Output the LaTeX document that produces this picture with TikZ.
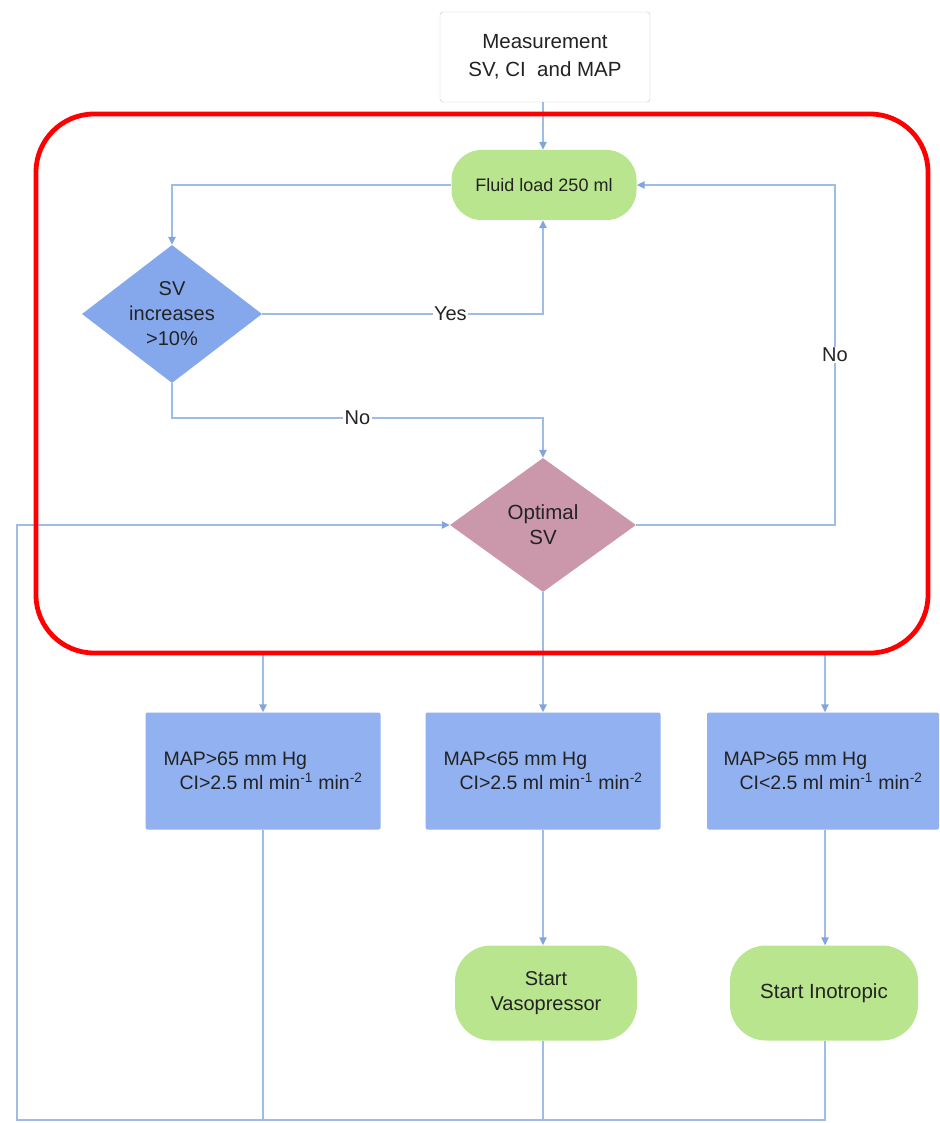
\documentclass[tikz,border=0pt]{standalone}
\usepackage{fontspec}
\setmainfont{Liberation Sans}
\usetikzlibrary{shapes.geometric,arrows.meta,calc}
\definecolor{lineblue}{RGB}{158,188,228}
\definecolor{tipblue}{RGB}{130,165,220}
\definecolor{greenfill}{RGB}{184,229,142}
\definecolor{diablue}{RGB}{133,168,236}
\definecolor{boxblue}{RGB}{145,177,240}
\definecolor{mauve}{RGB}{202,151,171}
\definecolor{txt}{RGB}{35,35,35}
\tikzset{
  conn/.style={draw=lineblue, line width=1.4pt, -{Triangle[length=8pt,width=7.5pt,color=tipblue]}},
  plain/.style={draw=lineblue, line width=1.4pt},
  lab/.style={fill=white, inner sep=1.5pt, text=txt, font=\fontsize{20}{22}\selectfont},
  startbox/.style={draw=gray!45, fill=white, rounded corners=3pt, minimum width=210pt, minimum height=90pt, align=center, text=txt, font=\fontsize{20.5}{28}\selectfont},
  pill/.style={fill=greenfill, rounded corners=30pt, align=center, text=txt, inner sep=0pt},
  svdia/.style={diamond, fill=diablue, aspect=1.3, inner sep=0pt, minimum width=180pt, minimum height=138pt, align=center, text=txt, font=\fontsize{20}{25}\selectfont},
  optdia/.style={diamond, fill=mauve, aspect=1.39, inner sep=0pt, minimum width=186pt, minimum height=134pt, align=center, text=txt, font=\fontsize{20.5}{25}\selectfont},
  mapbox/.style={fill=boxblue, rounded corners=2pt, minimum height=117pt, align=left, text=txt, font=\fontsize{19.5}{24}\selectfont}
}
\begin{document}
\begin{tikzpicture}[x=1pt,y=-1pt]
\useasboundingbox (0,0) rectangle (939,1123);
\coordinate (axis) at (543,0);
% nodes
\node[startbox] (meas) at (545,57) {Measurement\\SV, CI\ \ and MAP};
\node[pill, minimum width=185pt, minimum height=70pt, font=\fontsize{18}{20}\selectfont] (fluid) at (544,185) {Fluid load 250 ml};
\node[svdia] (sv) at (172,314) {SV\\increases\\>10\%};
\node[optdia] (opt) at (543,525) {Optimal\\SV};
\node[mapbox, minimum width=235pt] (b1) at (263,771) {MAP>65 mm Hg\\\hspace*{16pt}CI>2.5 ml min\textsuperscript{-1} min\textsuperscript{-2}};
\node[mapbox, minimum width=235pt] (b2) at (543,771) {MAP<65 mm Hg\\\hspace*{16pt}CI>2.5 ml min\textsuperscript{-1} min\textsuperscript{-2}};
\node[mapbox, minimum width=232pt] (b3) at (823,771) {MAP>65 mm Hg\\\hspace*{16pt}CI<2.5 ml min\textsuperscript{-1} min\textsuperscript{-2}};
\node[pill, minimum width=182pt, minimum height=95pt, rounded corners=36pt, font=\fontsize{20}{25}\selectfont] (vaso) at (546,993) {Start\\Vasopressor};
\node[pill, minimum width=188pt, minimum height=95pt, rounded corners=36pt, font=\fontsize{20.5}{25}\selectfont] (ino) at (824,993) {Start Inotropic};
% coordinates
\coordinate (nobend) at (543,418);
\coordinate (rightup) at (835,185);
\coordinate (sl) at (263,652);
\coordinate (sr) at (825,652);
\coordinate (bl) at (17,1120);
\coordinate (b1d) at (263,1120);
\coordinate (b2d) at (543,1120);
\coordinate (b3d) at (825,1120);
\coordinate (leftup) at (17,525);
% connectors
\draw[conn] (meas.south -| axis) -- (fluid.north -| axis);
\draw[conn] (fluid.west) -| (sv.north);
\draw[conn] (sv.east) -- node[lab, pos=0.67]{Yes} (sv.east -| axis) -- (fluid.south -| axis);
\draw[conn] (sv.south) |- node[lab, pos=0.75]{No} (nobend) -- (opt.north);
\draw[conn] (opt.east) -| node[lab, pos=0.75]{No} (rightup) -- (fluid.east);
\draw[conn] (opt.south) -- (b2.north);
\draw[plain] (sl) -- (sr);
\draw[conn] (sl) -- (sl |- b1.north);
\draw[conn] (sr) -- (sr |- b3.north);
\draw[conn] (b2.south) -- (b2.south |- vaso.north);
\draw[conn] (sr |- b3.south) -- (sr |- ino.north);
\draw[plain] (sl |- b1.south) -- (b1d);
\draw[plain] (b2.south |- vaso.south) -- (b2d);
\draw[conn] (sr |- ino.south) -- (b3d) -- (bl) -- (leftup) -- (opt.west);
% highlight
\draw[red, line width=4.8pt, rounded corners=58pt] (36,114) rectangle (928,653);
\end{tikzpicture}
\end{document}
